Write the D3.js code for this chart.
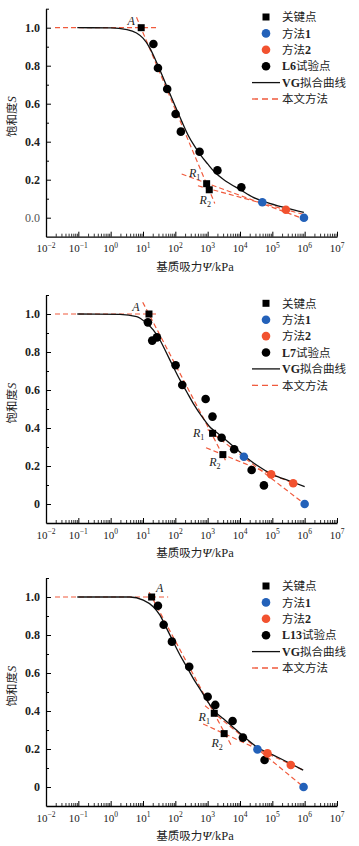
<!DOCTYPE html>
<html><head><meta charset="utf-8">
<script src="https://cdn.jsdelivr.net/npm/d3@7"></script>
<style>body{margin:0;background:#fff}svg{display:block}</style>
</head><body><svg id="c" width="359" height="846"></svg>
<script>
// ---------------- DATA ----------------
const xTickExps = [-2,-1,0,1,2,3,4,5,6,7];
const yTickVals = [0,0.2,0.4,0.6,0.8,1.0];
const yTickLabels1 = ["0.0","0.2","0.4","0.6","0.8","1.0"];
const yTickLabels23 = ["0","0.2","0.4","0.6","0.8","1.0"];
const legendLabels = ["关键点","方法1","方法2","试验点","VG拟合曲线","本文方法"];
const sampleNames = ["L6","L7","L13"];
const keyNames = ["A","R1","R2"];

// Panel 1 (L6)
const p1KeyPsi = [8.8, 930, 1120];
const p1KeyS   = [1.0, 0.179, 0.147];
const p1TestPsi = [21, 29, 56, 102, 148, 562, 2000, 11000];
const p1TestS   = [0.914, 0.788, 0.677, 0.546, 0.453, 0.347, 0.249, 0.16];
const p1M1Psi = [49000, 950000];
const p1M1S   = [0.081, 0.0];
const p1M2Psi = [263000];
const p1M2S   = [0.042];
const p1VGPsi = [0.093, 1, 3.2, 6.3, 10, 16, 25, 40, 63, 100, 158, 251, 398, 631, 1000, 1585, 3162, 4900, 10000, 25700, 66000, 275000, 944000];
const p1VGS   = [1.0, 0.999, 0.99, 0.972, 0.945, 0.895, 0.826, 0.746, 0.665, 0.585, 0.507, 0.433, 0.375, 0.325, 0.283, 0.243, 0.2, 0.179, 0.148, 0.107, 0.081, 0.051, 0.028];
const p1DashPsi = [[0.019, 26], [6.3, 1660], [157, 902000], [500, 881000]];
const p1DashS   = [[1, 1], [1.055, 0.075], [0.230, -0.005], [0.168, 0.018]];

// Panel 2 (L7)
const p2KeyPsi = [15.3, 1420, 2950];
const p2KeyS   = [1.0, 0.372, 0.26];
const p2TestPsi = [14.2, 19.3, 27, 102, 164, 865, 1410, 2700, 6600, 22900, 55000];
const p2TestS   = [0.956, 0.860, 0.877, 0.730, 0.626, 0.553, 0.46, 0.349, 0.288, 0.179, 0.098];
const p2M1Psi = [13200, 1000000];
const p2M1S   = [0.249, 0.0];
const p2M2Psi = [92000, 442000];
const p2M2S   = [0.156, 0.109];
const p2VGPsi = [0.093, 1.94, 6.4, 13, 20.7, 33.4, 53.8, 86, 139, 224, 357, 728, 1260, 1780, 4900, 12600, 32400, 107000, 347000, 1000000];
const p2VGS   = [1.0, 0.998, 0.986, 0.951, 0.916, 0.863, 0.793, 0.723, 0.653, 0.591, 0.53, 0.451, 0.40, 0.38, 0.319, 0.258, 0.205, 0.153, 0.121, 0.091];
const p2DashPsi = [[0.019, 26], [9.8, 3550], [1000, 1000000], [890, 562000]];
const p2DashS   = [[1, 1], [1.062, 0.23], [0.392, 0.0], [0.296, 0.102]];

// Panel 3 (L13)
const p3KeyPsi = [18.5, 1600, 3240];
const p3KeyS   = [1.0, 0.388, 0.281];
const p3TestPsi = [29, 43.5, 78.5, 269, 1000, 1720, 5900, 12300, 57500];
const p3TestS   = [0.954, 0.854, 0.765, 0.633, 0.475, 0.432, 0.347, 0.26, 0.142];
const p3M1Psi = [34700, 925000];
const p3M1S   = [0.198, 0.0];
const p3M2Psi = [70800, 372000];
const p3M2S   = [0.177, 0.116];
const p3VGPsi = [0.093, 3.95, 10.2, 20.7, 33.4, 53.8, 86, 139, 224, 357, 650, 1175, 2000, 3020, 10000, 32400, 107000, 347000, 900000];
const p3VGS   = [1.0, 1.0, 0.984, 0.949, 0.905, 0.835, 0.765, 0.695, 0.633, 0.572, 0.502, 0.432, 0.385, 0.36, 0.283, 0.212, 0.168, 0.125, 0.089];
const p3DashPsi = [[0.019, 60], [15.5, 5500], [830, 925000], [724, 900000]];
const p3DashS   = [[1, 1], [1.025, 0.216], [0.428, 0.0], [0.332, 0.089]];

// ---------------- LAYOUT / STYLE ----------------
const panels = [
  {name:sampleNames[0], yl:yTickLabels1, keyPsi:p1KeyPsi, keyS:p1KeyS, tPsi:p1TestPsi, tS:p1TestS, m1Psi:p1M1Psi, m1S:p1M1S, m2Psi:p1M2Psi, m2S:p1M2S, vgPsi:p1VGPsi, vgS:p1VGS, dPsi:p1DashPsi, dS:p1DashS,
   yTop:8.7, yBot:236.7, lab:[[-10,-7],[-12,-11],[-4,10]], legTop:17},
  {name:sampleNames[1], yl:yTickLabels23, keyPsi:p2KeyPsi, keyS:p2KeyS, tPsi:p2TestPsi, tS:p2TestS, m1Psi:p2M1Psi, m1S:p2M1S, m2Psi:p2M2Psi, m2S:p2M2S, vgPsi:p2VGPsi, vgS:p2VGS, dPsi:p2DashPsi, dS:p2DashS,
   yTop:295, yBot:523, lab:[[-13,-7],[-14,0],[-8,7]], legTop:303.3},
  {name:sampleNames[2], yl:yTickLabels23, keyPsi:p3KeyPsi, keyS:p3KeyS, tPsi:p3TestPsi, tS:p3TestS, m1Psi:p3M1Psi, m1S:p3M1S, m2Psi:p3M2Psi, m2S:p3M2S, vgPsi:p3VGPsi, vgS:p3VGS, dPsi:p3DashPsi, dS:p3DashS,
   yTop:578, yBot:806, lab:[[8,-9],[-10,4],[-7,9]], legTop:586}
];
const BLUE = "#2361b9", RED = "#f2522f", DASH = "#f05a3c";
const SERIF = "'Liberation Serif','Noto Sans CJK SC',serif";
const CJK = "'Noto Sans CJK SC','Liberation Serif',sans-serif";

const svg = d3.select("#c");
const x = d3.scaleLog().domain([1e-2, 1e7]).range([46, 337]);
const majorX = xTickExps.map(e => Math.pow(10, e));
const minorX = [];
xTickExps.slice(0, -1).forEach(e => { for (let k = 2; k <= 9; k++) minorX.push(k * Math.pow(10, e)); });

panels.forEach(P => {
  const y = d3.scaleLinear().domain([-0.1, 1.1]).range([P.yBot, P.yTop]);
  const g = svg.append("g");

  // x axis
  const ax = g.append("g").attr("transform", `translate(0,${P.yBot})`)
    .call(d3.axisBottom(x).tickValues(majorX).tickSize(-5).tickSizeOuter(0).tickFormat(""));
  ax.select(".domain").attr("stroke-width", 1.3);
  ax.selectAll(".tick line").attr("stroke-width", 1);
  const axm = g.append("g").attr("transform", `translate(0,${P.yBot})`)
    .call(d3.axisBottom(x).tickValues(minorX).tickSize(-3).tickSizeOuter(0).tickFormat(""));
  axm.select(".domain").remove();
  axm.selectAll(".tick line").attr("stroke-width", 0.8);

  // x tick labels with superscripts
  xTickExps.forEach(e => {
    const t = g.append("text").attr("x", x(Math.pow(10, e))).attr("y", P.yBot + 15.5)
      .attr("text-anchor", "middle").attr("font-family", SERIF).attr("font-size", 11).attr("fill", "#222");
    t.append("tspan").text("10");
    t.append("tspan").attr("font-size", 7.5).attr("dy", -4.5).text(e < 0 ? "\u2212" + (-e) : String(e));
  });
  // x title
  const xt = g.append("text").attr("x", 195).attr("y", P.yBot + 34).attr("text-anchor", "middle")
    .attr("font-family", CJK).attr("font-size", 11.5).attr("fill", "#222");
  xt.append("tspan").text("基质吸力");
  xt.append("tspan").attr("font-family", SERIF).attr("font-style", "italic").attr("font-size", 13).text("Ψ");
  xt.append("tspan").attr("font-family", SERIF).attr("font-size", 12.5).text("/kPa");

  // y axis
  const ay = g.append("g").attr("transform", `translate(46,0)`)
    .call(d3.axisLeft(y).tickValues(yTickVals).tickSize(-5).tickSizeOuter(0).tickPadding(6)
      .tickFormat((d, i) => P.yl[i]));
  ay.select(".domain").attr("stroke-width", 1.3);
  ay.selectAll(".tick text").attr("font-family", SERIF).attr("font-size", 12).attr("font-weight", "bold").attr("fill", "#222");
  if (P.yl[0] === "0.0") ay.selectAll(".tick text").filter((d, i) => i === 0).attr("font-weight", "normal").attr("fill", "#555");
  const aym = g.append("g").attr("transform", `translate(46,0)`)
    .call(d3.axisLeft(y).tickValues([0.1, 0.3, 0.5, 0.7, 0.9, 1.1]).tickSize(-3).tickSizeOuter(0).tickFormat(""));
  aym.select(".domain").remove();

  // y title
  const cy = (P.yTop + P.yBot) / 2 - 6;
  const yt = g.append("text").attr("transform", `translate(16,${cy}) rotate(-90)`).attr("text-anchor", "middle")
    .attr("font-family", CJK).attr("font-size", 11.5).attr("fill", "#222");
  yt.append("tspan").text("饱和度");
  yt.append("tspan").attr("font-family", SERIF).attr("font-style", "italic").attr("font-size", 12.5).text("S");

  // dashed method lines
  const lineG = d3.line().x(d => x(d[0])).y(d => y(d[1]));
  P.dPsi.forEach((ps, i) => {
    g.append("path").attr("d", lineG([[ps[0], P.dS[i][0]], [ps[1], P.dS[i][1]]]))
      .attr("fill", "none").attr("stroke", DASH).attr("stroke-width", 1.2).attr("stroke-dasharray", "5,3");
  });

  // VG curve
  const vg = P.vgPsi.map((p, i) => [p, P.vgS[i]]);
  g.append("path").attr("d", d3.line().x(d => x(d[0])).y(d => y(d[1])).curve(d3.curveMonotoneX)(vg))
    .attr("fill", "none").attr("stroke", "#111").attr("stroke-width", 1.3);

  // test points
  P.tPsi.forEach((p, i) => g.append("circle").attr("cx", x(p)).attr("cy", y(P.tS[i])).attr("r", 4.3).attr("fill", "#000"));
  P.m1Psi.forEach((p, i) => g.append("circle").attr("cx", x(p)).attr("cy", y(P.m1S[i])).attr("r", 4.3).attr("fill", BLUE));
  P.m2Psi.forEach((p, i) => g.append("circle").attr("cx", x(p)).attr("cy", y(P.m2S[i])).attr("r", 4.3).attr("fill", RED));
  // key points
  P.keyPsi.forEach((p, i) => {
    const cx = x(p), cyy = y(P.keyS[i]);
    g.append("rect").attr("x", cx - 3.5).attr("y", cyy - 3.5).attr("width", 7).attr("height", 7).attr("fill", "#000");
    const t = g.append("text").attr("x", cx + P.lab[i][0]).attr("y", cyy + P.lab[i][1] + 4)
      .attr("text-anchor", "middle").attr("font-family", SERIF).attr("font-style", "italic").attr("font-size", 12).attr("fill", "#222");
    t.append("tspan").text(keyNames[i][0]);
    if (keyNames[i].length > 1) t.append("tspan").attr("font-style", "normal").attr("font-size", 8).attr("dy", 3).text(keyNames[i].slice(1));
  });

  // legend
  const lx = 266, tx = 282, dy = 16.4;
  legendLabels.forEach((lab, i) => {
    const ly = P.legTop + i * dy;
    if (i === 0) g.append("rect").attr("x", lx - 3.5).attr("y", ly - 3.5).attr("width", 7).attr("height", 7).attr("fill", "#000");
    if (i === 1) g.append("circle").attr("cx", lx).attr("cy", ly).attr("r", 4.3).attr("fill", BLUE);
    if (i === 2) g.append("circle").attr("cx", lx).attr("cy", ly).attr("r", 4.3).attr("fill", RED);
    if (i === 3) g.append("circle").attr("cx", lx).attr("cy", ly).attr("r", 4.3).attr("fill", "#000");
    if (i === 4) g.append("line").attr("x1", 252).attr("x2", 280).attr("y1", ly).attr("y2", ly).attr("stroke", "#111").attr("stroke-width", 1.3);
    if (i === 5) g.append("line").attr("x1", 252).attr("x2", 280).attr("y1", ly).attr("y2", ly).attr("stroke", DASH).attr("stroke-width", 1.3).attr("stroke-dasharray", "6,4");
    const label = i === 3 ? P.name + lab : lab;
    const t = g.append("text").attr("x", tx).attr("y", ly + 4.2).attr("font-size", 11.5).attr("fill", "#222");
    // split latin and CJK parts
    const parts = label.match(/[A-Za-z0-9]+|[^A-Za-z0-9]+/g);
    parts.forEach(s => {
      const latin = /[A-Za-z0-9]/.test(s);
      t.append("tspan").attr("font-family", latin ? SERIF : CJK).attr("font-weight", latin ? "bold" : "normal")
        .attr("font-size", latin ? 12 : 11.5).text(s);
    });
  });
});
</script></body></html>
